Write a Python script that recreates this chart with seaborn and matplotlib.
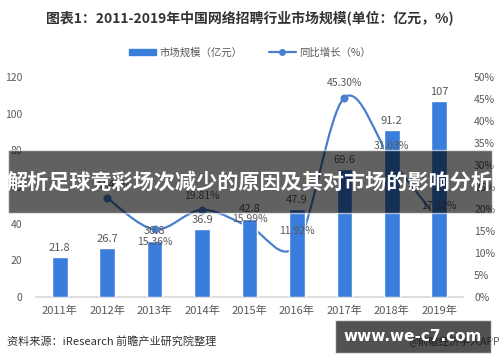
import numpy as np
import pandas as pd
import matplotlib
matplotlib.use("Agg")
import matplotlib.pyplot as plt
from matplotlib.path import Path
from matplotlib.patches import PathPatch, Rectangle
from matplotlib.lines import Line2D
import seaborn as sns

# data
years = ["2011年", "2012年", "2013年", "2014年", "2015年", "2016年", "2017年", "2018年", "2019年"]
market = [21.8, 26.7, 30.8, 36.9, 42.8, 47.9, 69.6, 91.2, 107]
growth_years = ["2012年", "2013年", "2014年", "2015年", "2016年", "2017年", "2018年", "2019年"]
growth = [22.48, 15.36, 19.81, 15.99, 11.92, 45.30, 31.03, 17.32]
left_ticks = [0, 20, 40, 60, 80, 100, 120]
right_ticks = [0, 5, 10, 15, 20, 25, 30, 35, 40, 45, 50]

bar_color = "#3a7ddc"
line_color = "#4a7fcf"
gray = "#595959"

sns.set_theme(style="white")
plt.rcParams["font.family"] = ["Noto Sans CJK SC", "DejaVu Sans"]

df = pd.DataFrame({"year": years, "market": market})
gdf = pd.DataFrame({"year": growth_years, "growth": growth})
gdf["pos"] = [years.index(y) for y in growth_years]

fig = plt.figure(figsize=(5, 3.62), dpi=100)
ax = fig.add_axes([0.072, 0.1796, 0.854, 0.6077])
ax2 = ax.twinx()

sns.barplot(data=df, x="year", y="market", color=bar_color, width=0.33,
            saturation=1, ax=ax, zorder=3)
ax.bar_label(ax.containers[0], labels=[f"{v:g}" for v in market],
             padding=3, fontsize=8, color=gray)

# smoothed growth line (drawn behind the bars)
xs = gdf["pos"].to_numpy(float)
ys = gdf["growth"].to_numpy(float)
pts = np.column_stack([xs, ys])
ext = np.vstack([pts[0], pts, pts[-1]])
verts = [tuple(pts[0])]
codes = [Path.MOVETO]
for i in range(len(pts) - 1):
    p0, p1, p2, p3 = ext[i], ext[i + 1], ext[i + 2], ext[i + 3]
    c1 = p1 + (p2 - p0) / 6
    c2 = p2 - (p3 - p1) / 6
    verts += [tuple(c1), tuple(c2), tuple(p2)]
    codes += [Path.CURVE4] * 3
ax2.add_patch(PathPatch(Path(verts, codes), fill=False, edgecolor=line_color, lw=1.6))
sns.scatterplot(data=gdf, x="pos", y="growth", color=line_color, s=28,
                edgecolor=line_color, ax=ax2, zorder=4)

ax.set_zorder(ax2.get_zorder() + 1)
ax.patch.set_visible(False)

# growth labels
offsets = {"2012年": (4, 6), "2013年": (0, -13), "2014年": (0, 6), "2015年": (0, 2),
           "2016年": (0, 6), "2017年": (0, 7), "2018年": (0, 7), "2019年": (0, 7)}
for yr, x, y in zip(gdf["year"], xs, ys):
    dx, dy = offsets[yr]
    ax.annotate(f"{y:.2f}%", (x, y), xycoords=ax2.transData, xytext=(dx, dy),
                textcoords="offset points", ha="center", va="bottom",
                fontsize=7.5, color=gray, zorder=6)

ax.set_xlim(-0.5, 8.5)
ax.set_ylim(0, 120)
ax2.set_ylim(0, 50)
ax.set_yticks(left_ticks)
ax.set_yticklabels([str(t) for t in left_ticks])
ax2.set_yticks(right_ticks)
ax2.set_yticklabels([f"{t}%" for t in right_ticks])
ax.set_xlabel("")
ax.set_ylabel("")
ax2.set_xlabel("")
ax2.set_ylabel("")
ax.tick_params(axis="x", colors=gray, labelsize=8, length=0, pad=6)
ax.tick_params(axis="y", colors=gray, labelsize=7.5, length=0, pad=10)
ax2.tick_params(axis="y", colors=gray, labelsize=7.5, length=0, pad=8)
for a in (ax, ax2):
    for s in ("top", "left", "right", "bottom"):
        a.spines[s].set_visible(False)
ax.spines["bottom"].set_visible(True)
ax.spines["bottom"].set_color("#d9d9d9")

# title and legend
fig.text(0.5, 0.952, "图表1：2011-2019年中国网络招聘行业市场规模(单位：亿元，%)",
         ha="center", va="center", fontsize=10, fontweight="bold", color="#333333")
handles = [Rectangle((0, 0), 1, 1, color=bar_color),
           Line2D([0], [0], color=line_color, lw=1.6, marker="o", markersize=4)]
fig.legend(handles, ["市场规模（亿元）", "同比增长（%）"], loc="center",
           bbox_to_anchor=(0.5, 0.855), ncol=2, frameon=False, fontsize=7.5,
           labelcolor=gray, handlelength=2.6, handleheight=0.5, columnspacing=2.5,
           handletextpad=0.3)

# source
fig.text(0.014, 0.058, "资料来源：iResearch 前瞻产业研究院整理", ha="left", va="center",
         fontsize=8, color="#333333")
fig.text(1.0, 0.058, "@前瞻经济学人APP", ha="right", va="center", fontsize=7.5, color=gray)

# overlay banner
fig.patches.append(Rectangle((0.016, 0.412), 0.968, 0.174, transform=fig.transFigure,
                             facecolor="black", alpha=0.62, zorder=10))
fig.text(0.5, 0.497, "解析足球竞彩场次减少的原因及其对市场的影响分析", ha="center",
         va="center", fontsize=15.2, fontweight="bold", color="white", zorder=11)

# bottom-right box
fig.patches.append(Rectangle((0.67, 0.025), 0.312, 0.09, transform=fig.transFigure,
                             facecolor="black", alpha=0.68, zorder=10))
fig.text(0.826, 0.07, "www.we-c7.com", ha="center", va="center", fontsize=11,
         fontweight="bold", color="white", zorder=11, family=["DejaVu Sans"])

fig.savefig("out.png", dpi=100)
